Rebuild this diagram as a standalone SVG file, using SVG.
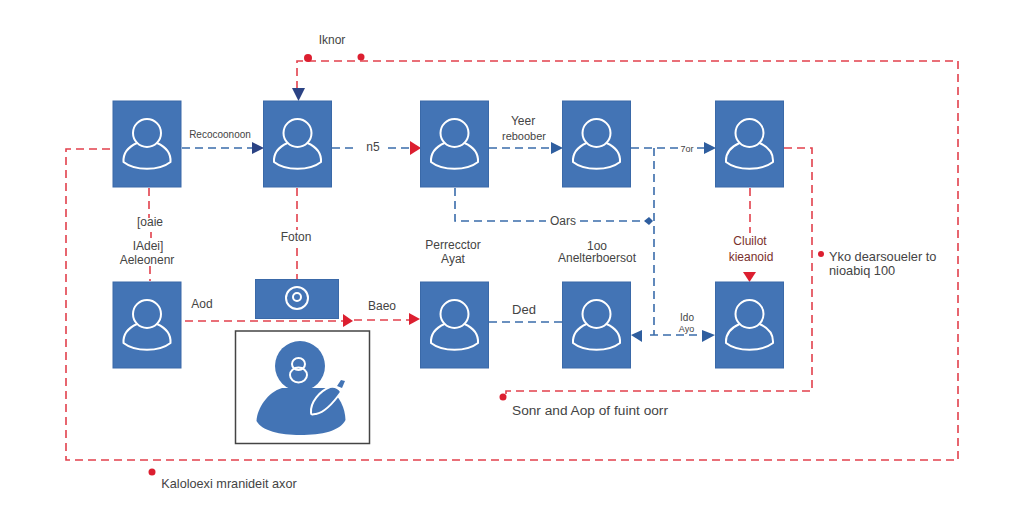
<svg xmlns="http://www.w3.org/2000/svg" xmlns:xlink="http://www.w3.org/1999/xlink" width="1024" height="523" viewBox="0 0 1024 523">
<style>
.box{fill:#4374b5;stroke:#3a69a8;stroke-width:1}
.ic{fill:none;stroke:#fff;stroke-width:2;stroke-linejoin:round;stroke-linecap:round}
.r,.b{fill:none;stroke-width:1.6;stroke-dasharray:8 5}
.r{stroke:#e2404c}
.b{stroke:#3a6cab}
.ar{fill:#dc1f30}
.ab{fill:#2f5e9f}
.an{fill:#2b4384}
text{font-family:"Liberation Sans",Arial,sans-serif;font-size:12px;fill:#444;text-anchor:middle}
.m{fill:#7a2f2c}
.l{text-anchor:start}
</style>
<defs>
<g id="person">
<rect class="box" x="0" y="0" width="68" height="86"/>
<circle class="ic" cx="34" cy="32" r="14"/>
<path class="ic" d="M24 42C15 46 10 53 10.500 61C22 70 46 70 57.500 61C58 53 53 46 44 42"/>
</g>
</defs>
<rect width="1024" height="523" fill="#fff"/>
<g id="connectors">
<path class="r" d="M297 89V61H958V460H66V149H112"/>
<path class="b" d="M182 148H252"/>
<path class="b" d="M332 148H358M388 148H410"/>
<path class="b" d="M489 148H552"/>
<path class="b" d="M631 148H678M697 148H704"/>
<path class="b" d="M455 188V221H546M580 221H648"/>
<path class="b" d="M654 148V335"/>
<path class="r" d="M149 188V218M151 232V238M150 266V281"/>
<path class="r" d="M297 188V230M297 248V279"/>
<path class="r" d="M185 321H344M354 320H410"/>
<path class="b" d="M489 322H562"/>
<path class="b" d="M650 335H698"/>
<path class="r" d="M750 188V233"/>
<path class="r" d="M784 148H812V391H506V395"/>
<polygon class="an" points="292,88 305,88 298.500,101"/>
<polygon class="an" points="252,142 264,148 252,154"/>
<polygon class="ar" points="410,141 421,148 410,155"/>
<polygon class="ab" points="551,142 563,148 551,154"/>
<polygon class="ab" points="704,142 716,148 704,154"/>
<polygon class="ar" points="343,314 353,321 343,327"/>
<polygon class="ar" points="409,313 420,319 409,325"/>
<polygon class="ar" points="743,272 756,272 749.500,282"/>
<polygon class="ab" points="642,330 631,335 642,342"/>
<polygon class="ab" points="702,330 715,335 702,342"/>
<polygon class="ab" points="644,221 649,217 653,221 649,225"/>
<circle class="ar" cx="308" cy="58" r="4"/>
<circle class="ar" cx="361" cy="57" r="3.500"/>
<circle class="ar" cx="503" cy="397" r="3.500"/>
<circle class="ar" cx="152" cy="472" r="3.500"/>
<circle class="ar" cx="821" cy="254" r="3"/>
</g>
<g id="n1"><use xlink:href="#person" x="113" y="101"/></g>
<g id="n2"><use xlink:href="#person" x="263.500" y="101"/></g>
<g id="n3"><use xlink:href="#person" x="420.500" y="101"/></g>
<g id="n4"><use xlink:href="#person" x="562.500" y="101"/></g>
<g id="n5"><use xlink:href="#person" x="715.500" y="101"/></g>
<g id="n6"><use xlink:href="#person" x="113" y="282"/></g>
<g id="n7"><use xlink:href="#person" x="420.500" y="282"/></g>
<g id="n8"><use xlink:href="#person" x="562.500" y="282"/></g>
<g id="n9"><use xlink:href="#person" x="715.500" y="282"/></g>
<g id="n10">
<rect class="box" x="255.500" y="279.500" width="83" height="39"/>
<circle class="ic" cx="297" cy="298" r="11"/>
<circle class="ic" cx="297" cy="297" r="4"/>
</g>
<g id="n11">
<rect x="235.500" y="331" width="134" height="112.500" fill="#fff" stroke="#444" stroke-width="1.500"/>
<circle cx="300" cy="366" r="25" fill="#4374b5"/>
<path fill="#4374b5" d="M282 388C268 392 257 408 256.500 421C262 431 280 435 300 435C322 435 340 431 345.500 420C345 408 340 396 328 388Z"/>
<ellipse class="ic" cx="298.500" cy="364" rx="6.500" ry="6"/>
<ellipse class="ic" cx="298.500" cy="375" rx="8.500" ry="7.500"/>
<path fill="#4374b5" stroke="#fff" stroke-width="2" stroke-linejoin="round" d="M311 413C310 402 320 391 330 387C336 386 340 389 341 392C334 402 326 412 316 414C313 414.500 311 415 311 413Z"/>
<path fill="#4374b5" d="M337 386L341 380L345 381L342 388Z"/>
</g>
<g id="labels">
<text x="332" y="44">Iknor</text>
<text x="220" y="138" font-size="10" style="font-size:10px">Recocoonoon</text>
<text x="373" y="151">n5</text>
<text x="523" y="125">Yeer</text>
<text x="524" y="140" style="font-size:11px">reboober</text>
<text x="687" y="152" style="font-size:9px">7or</text>
<text x="150" y="226">[oaie</text>
<text x="148" y="250">IAdei]</text>
<text x="147" y="264">Aeleonenr</text>
<text x="296" y="241">Foton</text>
<text x="453" y="249">Perrecctor</text>
<text x="453" y="263">Ayat</text>
<text x="597" y="250">1oo</text>
<text x="597" y="262">Anelterboersot</text>
<text x="563" y="225">Oars</text>
<text x="750" y="245" class="m">Cluilot</text>
<text x="751" y="261" class="m">kieanoid</text>
<text x="829" y="261" class="l" style="font-size:12.800px">Yko dearsoueler to</text>
<text x="829" y="275" class="l" style="font-size:12.800px">nioabiq 100</text>
<text x="202" y="308">Aod</text>
<text x="382" y="310">Baeo</text>
<text x="524" y="314" style="font-size:13px">Ded</text>
<text x="687" y="321" style="font-size:10px">Ido</text>
<text x="686.500" y="332" style="font-size:9px">Ayo</text>
<text x="590" y="415" style="font-size:13.700px">Sonr and Aop of fuint oorr</text>
<text x="229" y="488" style="font-size:12.700px">Kaloloexi mranideit axor</text>
</g>
</svg>
